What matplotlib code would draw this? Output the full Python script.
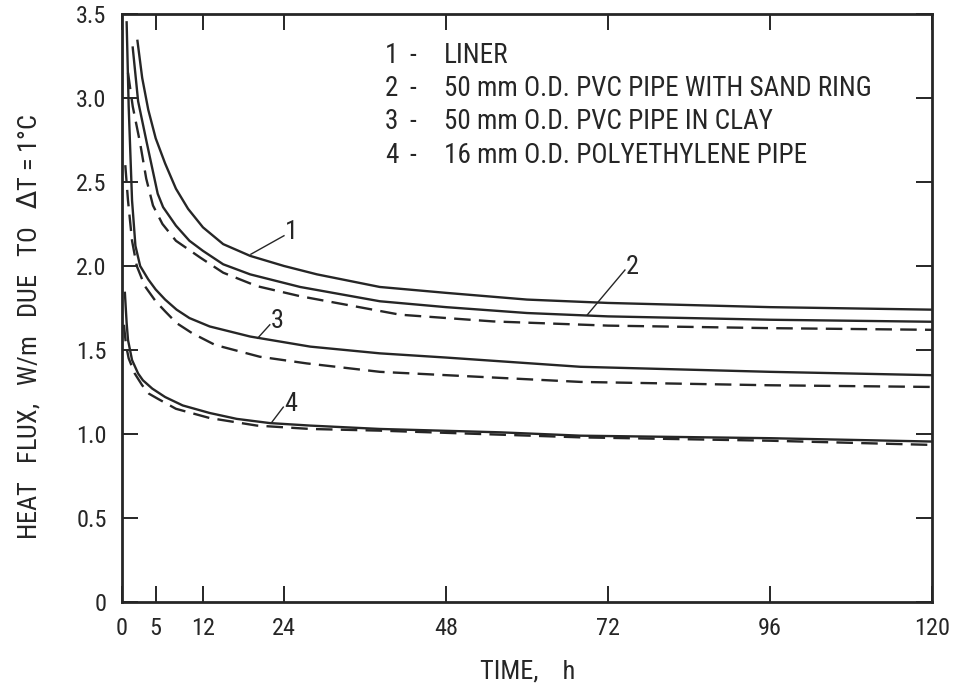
import matplotlib
matplotlib.use("Agg")
import matplotlib.pyplot as plt
from matplotlib import font_manager

names = {f.name for f in font_manager.fontManager.ttflist}
FONT = "DejaVu Sans"
for cand in ["Roboto Condensed", "Liberation Sans Narrow", "Open Sans Condensed",
             "DejaVu Sans Condensed"]:
    if cand in names:
        FONT = cand
        break
plt.rcParams['font.family'] = [FONT, 'DejaVu Sans']

# ---- data ----
c1_x = [2.3, 3.0, 3.9, 5.0, 6.4, 8.0, 9.8, 12, 15, 19, 24, 28.9, 38.2, 48, 60, 72, 96, 120]
c1_y = [3.34, 3.12, 2.93, 2.76, 2.61, 2.46, 2.34, 2.23, 2.13, 2.06, 2.0, 1.95, 1.875, 1.84, 1.80, 1.78, 1.755, 1.74]

c2s_x = [1.6, 2.4, 3.7, 5.3, 6.1, 8.0, 10, 12, 15, 19, 26.4, 38.2, 48, 60, 72, 96, 120]
c2s_y = [3.30, 2.98, 2.73, 2.43, 2.35, 2.24, 2.15, 2.09, 2.01, 1.95, 1.875, 1.79, 1.755, 1.72, 1.70, 1.68, 1.668]

c2d_x = [0.9, 1.6, 2.7, 3.6, 4.6, 6.0, 8.0, 11.6, 15, 20, 26.4, 41.2, 55, 72, 96, 120]
c2d_y = [3.15, 2.95, 2.73, 2.52, 2.36, 2.25, 2.15, 2.05, 1.96, 1.88, 1.82, 1.71, 1.67, 1.645, 1.63, 1.62]

c3s_x = [0.7, 1.0, 1.5, 2.0, 2.7, 3.9, 5.0, 6.4, 8.1, 10, 13, 19, 27.9, 38.2, 48, 67.9, 96, 120]
c3s_y = [3.45, 2.95, 2.39, 2.12, 2.00, 1.92, 1.86, 1.80, 1.74, 1.69, 1.64, 1.58, 1.52, 1.48, 1.455, 1.40, 1.37, 1.35]

c3d_x = [0.5, 0.9, 1.5, 2.2, 3.4, 5.0, 6.4, 8.1, 10.4, 13.8, 20.4, 27.4, 38.2, 67.9, 96, 120]
c3d_y = [2.60, 2.39, 2.15, 2.00, 1.88, 1.79, 1.73, 1.66, 1.60, 1.53, 1.46, 1.42, 1.37, 1.31, 1.29, 1.28]

c4s_x = [0.44, 0.7, 0.9, 1.5, 2.4, 3.1, 4.5, 6.4, 9.0, 13, 17, 21.9, 27.9, 38.2, 56, 67.9, 96, 120]
c4s_y = [1.84, 1.66, 1.56, 1.44, 1.36, 1.32, 1.27, 1.22, 1.17, 1.125, 1.09, 1.065, 1.05, 1.03, 1.01, 0.99, 0.975, 0.955]

c4d_x = [0.3, 0.6, 1.0, 1.9, 3.0, 4.0, 5.3, 8.0, 13, 20, 27.9, 38.2, 67.9, 96, 120]
c4d_y = [1.65, 1.53, 1.45, 1.36, 1.29, 1.24, 1.21, 1.15, 1.095, 1.05, 1.03, 1.02, 0.98, 0.96, 0.935]

x_ticks = [0, 5, 12, 24, 48, 72, 96, 120]
y_ticks = [0, 0.5, 1.0, 1.5, 2.0, 2.5, 3.0, 3.5]
y_ticklabels = ["0", "0.5", "1.0", "1.5", "2.0", "2.5", "3.0", "3.5"]

legend_nums = ["1", "2", "3", "4"]
legend_texts = ["LINER",
                "50 mm O.D. PVC PIPE WITH SAND RING",
                "50 mm O.D. PVC PIPE IN CLAY",
                "16 mm O.D. POLYETHYLENE PIPE"]

# curve labels: (label, leader start x, y, leader end x, y)
curve_labels = [("1", 19.1, 2.07, 24.0, 2.18),
                ("2", 68.9, 1.708, 74.5, 1.976),
                ("3", 20.1, 1.57, 21.9, 1.65),
                ("4", 22.2, 1.07, 23.9, 1.16)]

INK = "#262626"

fig = plt.figure(figsize=(9.6, 6.87), dpi=100)
ax = fig.add_axes([0.127, 0.1237, 0.844, 0.856])

lw = 1.7
dash = (7, 3.5)
ax.plot(c1_x, c1_y, color=INK, lw=lw)
ax.plot(c2s_x, c2s_y, color=INK, lw=lw)
ax.plot(c2d_x, c2d_y, color=INK, lw=lw, dashes=dash)
ax.plot(c3s_x, c3s_y, color=INK, lw=lw)
ax.plot(c3d_x, c3d_y, color=INK, lw=lw, dashes=dash)
ax.plot(c4s_x, c4s_y, color=INK, lw=lw)
ax.plot(c4d_x, c4d_y, color=INK, lw=lw, dashes=dash)

for lab, x0, y0, x1, y1 in curve_labels:
    ax.plot([x0, x1], [y0, y1], color=INK, lw=1.0)
    ax.text(x1 + 0.1, y1 + 0.02, lab, fontsize=19, color=INK, ha="left", va="center")

ax.set_xlim(0, 120)
ax.set_ylim(0, 3.5)
ax.set_xticks(x_ticks)
ax.set_xticklabels([str(v) for v in x_ticks])
ax.set_yticks(y_ticks)
ax.set_yticklabels(y_ticklabels)
ax.tick_params(direction="in", length=11.5, width=1.4, top=True, right=True,
               labelsize=17.5, colors=INK, pad=11)
for s in ax.spines.values():
    s.set_linewidth(2.0)
    s.set_color(INK)

rows_y = [0.9286, 0.8724, 0.8163, 0.7585]
for n, t, yy in zip(legend_nums, legend_texts, rows_y):
    ax.text(0.3247, yy, n, transform=ax.transAxes, fontsize=19.5, color=INK,
            ha="left", va="center")
    ax.text(0.359, yy, "-", transform=ax.transAxes, fontsize=19.5, color=INK,
            ha="center", va="center")
    ax.text(0.3975, yy, t, transform=ax.transAxes, fontsize=19.5, color=INK,
            ha="left", va="center")

fig.text(0.5495, 0.022, "TIME,    h", fontsize=19, color=INK, ha="center", va="center")
fig.text(0.030, 0.525, "HEAT   FLUX,   W/m   DUE   TO   $\\Delta$T = 1°C", fontsize=19,
         color=INK, rotation=90, ha="center", va="center")

fig.savefig("out.png", dpi=100)
